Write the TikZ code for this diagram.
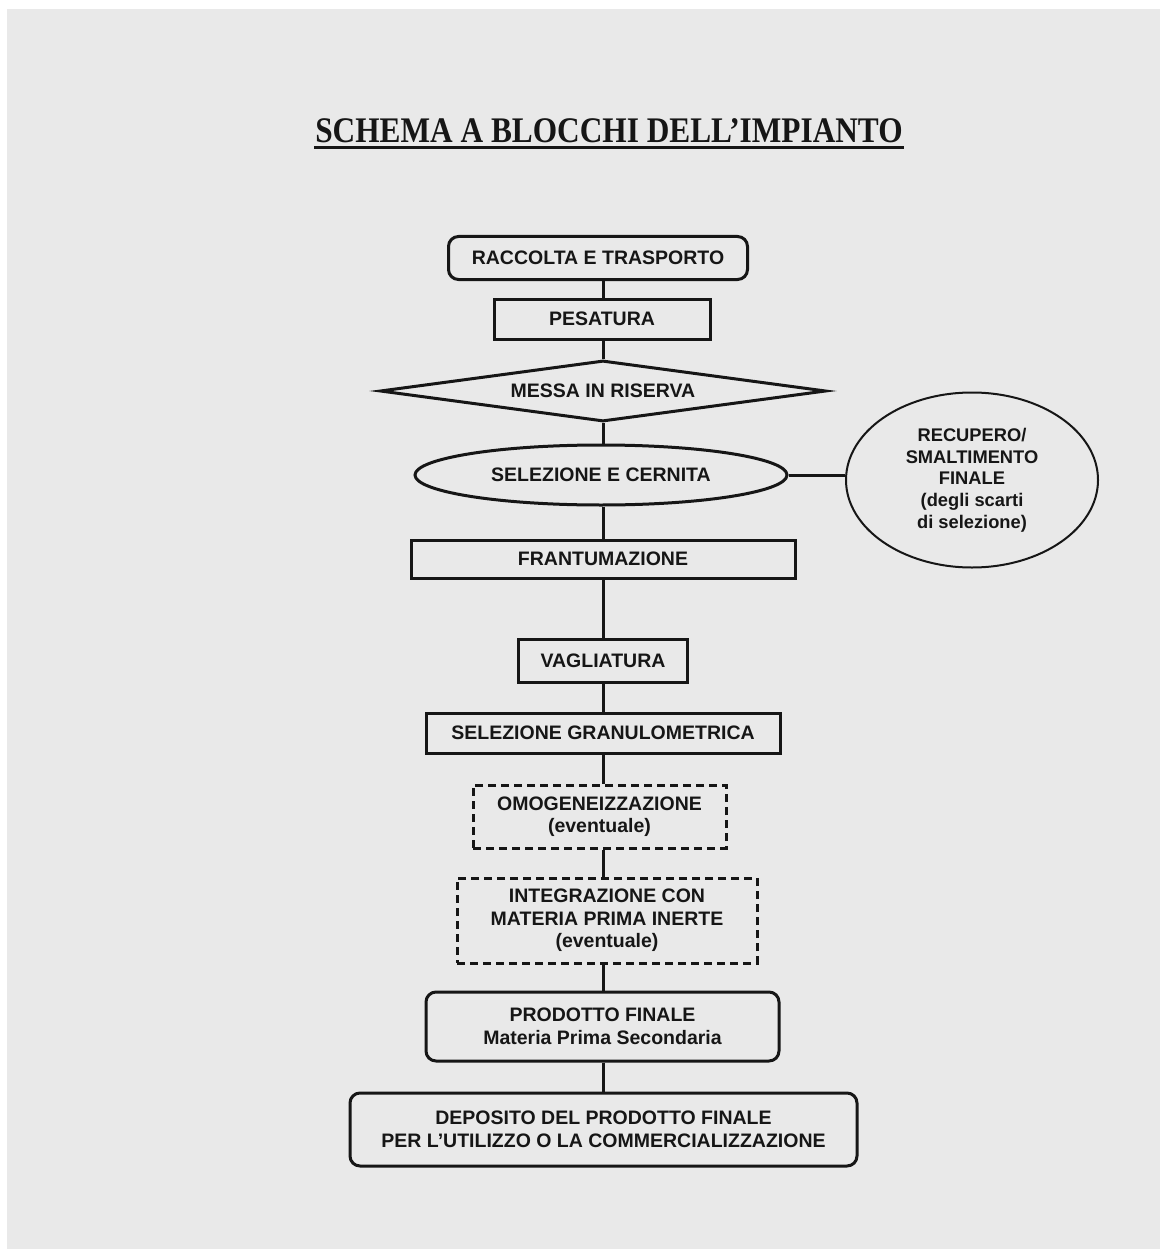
\documentclass[tikz,border=0pt]{standalone}
\usepackage{fontspec}
\setmainfont{Liberation Sans}
\newfontfamily\titlefont{Liberation Serif}[FakeStretch=0.87]
\usetikzlibrary{shapes.geometric,calc}
\definecolor{paper}{RGB}{233,233,233}
\definecolor{ink}{RGB}{22,22,22}

\tikzset{
  block/.style={draw=ink,line width=3pt,text=ink,align=center,inner sep=0pt,
    font=\bfseries\fontsize{19.5}{22.5}\selectfont},
  roundblock/.style={block,rectangle,rounded corners=10pt},
  dashblock/.style={block,rectangle,dash pattern=on 8pt off 5pt},
  link/.style={draw=ink,line width=3pt}
}

\begin{document}
\begin{tikzpicture}[x=1pt,y=-1pt]
  \useasboundingbox (0,0) rectangle (1160,1249);
  \fill[paper] (7,9) rectangle (1160,1249);

  % titolo
  \node[anchor=base,text=ink,inner sep=0pt,
    font=\titlefont\bfseries\fontsize{36}{40}\selectfont] (titolo) at (609,143)
    {SCHEMA A BLOCCHI DELL’IMPIANTO};
  \draw[ink,line width=3pt] ($(titolo.base west)+(-1,4.5)$) -- ($(titolo.base east)+(1,4.5)$);

  % blocchi
  \node[roundblock,minimum width=299pt,minimum height=43pt] (raccolta) at (598,258) {RACCOLTA E TRASPORTO};
  \node[block,minimum width=216pt,minimum height=40pt] (pesatura) at (602,319) {PESATURA};
  \node[block,diamond,aspect=7.5,minimum width=446pt,minimum height=61pt] (riserva) at (603,391) {MESSA IN RISERVA};
  \node[block,ellipse,minimum width=372pt,minimum height=60pt] (cernita) at (601,475) {SELEZIONE E CERNITA};
  \node[block,ellipse,line width=2pt,minimum width=252pt,minimum height=175pt,
    font=\bfseries\fontsize{18.3}{21.7}\selectfont] (recupero) at (972,480)
    {RECUPERO/\\SMALTIMENTO\\FINALE\\(degli scarti\\di selezione)};
  \node[block,minimum width=384pt,minimum height=38pt] (frantumazione) at (603,559) {FRANTUMAZIONE};
  \node[block,minimum width=169pt,minimum height=43pt] (vagliatura) at (603,661) {VAGLIATURA};
  \node[block,minimum width=354pt,minimum height=40pt] (granulometrica) at (603,733) {SELEZIONE GRANULOMETRICA};
  \node[dashblock,minimum width=253pt,minimum height=63pt] (omogeneizzazione) at (599.5,816.5)
    {OMOGENEIZZAZIONE\\(eventuale)};
  \node[dashblock,minimum width=300pt,minimum height=85pt] (integrazione) at (607,920.5)
    {INTEGRAZIONE CON\\MATERIA PRIMA INERTE\\(eventuale)};
  \node[roundblock,minimum width=353pt,minimum height=69pt] (prodotto) at (602.5,1026.5)
    {PRODOTTO FINALE\\Materia Prima Secondaria};
  \node[roundblock,minimum width=507pt,minimum height=73pt] (deposito) at (603.5,1129.5)
    {DEPOSITO DEL PRODOTTO FINALE\\PER L’UTILIZZO O LA COMMERCIALIZZAZIONE};

  % collegamenti
  \foreach \a/\b in {raccolta/pesatura,pesatura/riserva,riserva/cernita,cernita/frantumazione,
      frantumazione/vagliatura,vagliatura/granulometrica,granulometrica/omogeneizzazione,
      omogeneizzazione/integrazione,integrazione/prodotto,prodotto/deposito}
    \draw[link] (\a.south -| riserva) -- (\b.north -| riserva);
  \draw[link] (cernita.east) -- (cernita.east -| recupero.west);
\end{tikzpicture}
\end{document}
